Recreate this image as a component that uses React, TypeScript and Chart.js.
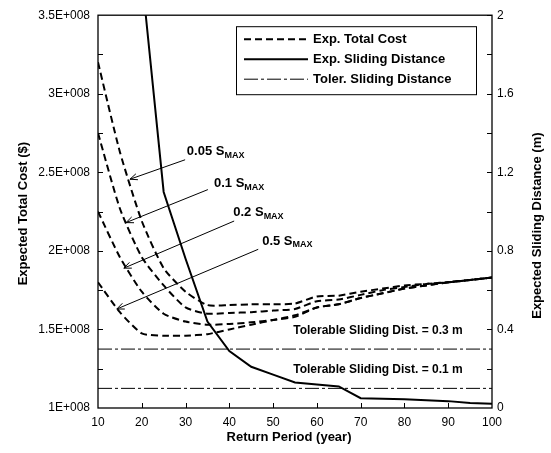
import React, { useEffect, useRef } from 'react';
import { Chart, registerables } from 'chart.js';
Chart.register(...registerables);

const FONT = '"Liberation Sans", Arial, Helvetica, sans-serif';

// Return period (year)
const years = [10, 15, 20, 25, 30, 35, 40, 45, 50, 55, 60, 65, 70, 75, 80, 85, 90, 95, 100];
// Expected total cost ($), left axis
const cost005 = [3.2e8, 2.63e8, 2.19e8, 1.89e8, 1.74e8, 1.655e8, 1.655e8, 1.66e8, 1.66e8, 1.665e8, 1.71e8, 1.715e8, 1.74e8, 1.76e8, 1.78e8, 1.79e8, 1.80e8, 1.815e8, 1.83e8];
const cost01 = [2.75e8, 2.27e8, 1.96e8, 1.78e8, 1.64e8, 1.60e8, 1.605e8, 1.61e8, 1.62e8, 1.63e8, 1.68e8, 1.69e8, 1.72e8, 1.75e8, 1.77e8, 1.79e8, 1.80e8, 1.815e8, 1.83e8];
const cost02 = [2.25e8, 1.96e8, 1.74e8, 1.60e8, 1.55e8, 1.53e8, 1.535e8, 1.545e8, 1.56e8, 1.58e8, 1.64e8, 1.66e8, 1.70e8, 1.73e8, 1.76e8, 1.78e8, 1.80e8, 1.815e8, 1.83e8];
const cost05 = [1.80e8, 1.61e8, 1.475e8, 1.46e8, 1.46e8, 1.47e8, 1.50e8, 1.53e8, 1.56e8, 1.59e8, 1.64e8, 1.66e8, 1.70e8, 1.73e8, 1.76e8, 1.78e8, 1.80e8, 1.815e8, 1.83e8];
// Expected sliding distance (m), right axis
const slideYears = [20, 25, 30, 35, 40, 45, 50, 55, 60, 65, 70, 75, 80, 85, 90, 95, 100];
const slideDist = [2.2, 1.10, 0.76, 0.44, 0.29, 0.21, 0.17, 0.13, 0.12, 0.11, 0.05, 0.047, 0.045, 0.04, 0.035, 0.025, 0.022];
// Tolerable sliding distances (m)
const tolerances = [0.3, 0.1];
const tolLabels = ['Tolerable Sliding Dist. = 0.3 m', 'Tolerable Sliding Dist. = 0.1 m'];

const legendLabels = ['Exp. Total Cost', 'Exp. Sliding Distance', 'Toler. Sliding Distance'];
const curveNames = ['0.05', '0.1', '0.2', '0.5'];
// annotation label anchor (year, cost), arrow tail and tip (year, cost)
const labelPos = [[30.3, 2.633e8], [36.5, 2.43e8], [40.9, 2.247e8], [47.5, 2.063e8]];
const arrowTail = [[29.9, 2.58e8], [35.1, 2.39e8], [41.1, 2.19e8], [46.6, 2.01e8]];
const arrowTip = [[17.3, 2.456e8], [16.4, 2.18e8], [15.9, 1.89e8], [14.3, 1.63e8]];
const tolLabelPos = [[54.6, 0.395], [54.6, 0.197]];

const DASH = [7, 4];
const DASHDOT = [14, 3, 3, 3];

const overlay = {
  id: 'overlay',
  afterDraw(chart: any) {
    const { ctx, chartArea: a, scales } = chart;
    const sx = scales.x, sy = scales.y, sy1 = scales.y1;
    ctx.save();
    ctx.strokeStyle = '#000';
    ctx.fillStyle = '#000';
    ctx.lineWidth = 1.3;
    ctx.setLineDash([]);
    ctx.strokeRect(a.left, a.top, a.right - a.left, a.bottom - a.top);
    ctx.lineWidth = 1;
    // inner ticks
    ctx.beginPath();
    for (let v = 20; v < 100; v += 10) {
      const px = Math.round(sx.getPixelForValue(v)) + 0.5;
      ctx.moveTo(px, a.bottom);
      ctx.lineTo(px, a.bottom - 5);
    }
    for (let v = 1.25e8; v < 3.5e8; v += 0.25e8) {
      const py = Math.round(sy.getPixelForValue(v)) + 0.5;
      ctx.moveTo(a.left, py);
      ctx.lineTo(a.left + 5, py);
    }
    for (let v = 0.2; v < 2; v += 0.2) {
      const py = Math.round(sy1.getPixelForValue(v)) + 0.5;
      ctx.moveTo(a.right, py);
      ctx.lineTo(a.right - 5, py);
    }
    ctx.stroke();

    // axis titles
    ctx.font = `bold 13px ${FONT}`;
    ctx.textAlign = 'center';
    ctx.textBaseline = 'middle';
    ctx.fillText('Return Period (year)', (a.left + a.right) / 2 - 6, a.bottom + 29);
    ctx.save();
    ctx.translate(23, (a.top + a.bottom) / 2 + 2);
    ctx.rotate(-Math.PI / 2);
    ctx.fillText('Expected Total Cost ($)', 0, 0);
    ctx.restore();
    ctx.save();
    ctx.translate(537, (a.top + a.bottom) / 2 + 14);
    ctx.rotate(-Math.PI / 2);
    ctx.fillText('Expected Sliding Distance (m)', 0, 0);
    ctx.restore();

    // legend
    const lx = a.left + 138, ly = a.top + 11, lw = 240, lh = 68;
    ctx.lineWidth = 1;
    ctx.strokeRect(lx + 0.5, ly + 0.5, lw, lh);
    const styles = [
      { dash: DASH, w: 2 },
      { dash: [], w: 2 },
      { dash: DASHDOT, w: 1 },
    ];
    ctx.textAlign = 'left';
    ctx.font = `bold 13px ${FONT}`;
    legendLabels.forEach((t, i) => {
      const yy = ly + 13 + i * 20;
      ctx.beginPath();
      ctx.setLineDash(styles[i].dash);
      ctx.lineWidth = styles[i].w;
      ctx.moveTo(lx + 8, yy);
      ctx.lineTo(lx + 72, yy);
      ctx.stroke();
      ctx.setLineDash([]);
      ctx.fillText(t, lx + 77, yy);
    });

    // curve annotations
    curveNames.forEach((n, i) => {
      const px = sx.getPixelForValue(labelPos[i][0]);
      const py = sy.getPixelForValue(labelPos[i][1]);
      ctx.font = `bold 13px ${FONT}`;
      const main = `${n} S`;
      ctx.fillText(main, px, py);
      const w = ctx.measureText(main).width;
      ctx.font = `bold 9px ${FONT}`;
      ctx.fillText('MAX', px + w, py + 4);
      const tx = sx.getPixelForValue(arrowTail[i][0]);
      const ty = sy.getPixelForValue(arrowTail[i][1]);
      const hx = sx.getPixelForValue(arrowTip[i][0]);
      const hy = sy.getPixelForValue(arrowTip[i][1]);
      ctx.lineWidth = 1;
      ctx.beginPath();
      ctx.moveTo(tx, ty);
      ctx.lineTo(hx, hy);
      const ang = Math.atan2(ty - hy, tx - hx);
      const L = 8, s = 0.4;
      ctx.moveTo(hx + L * Math.cos(ang + s), hy + L * Math.sin(ang + s));
      ctx.lineTo(hx, hy);
      ctx.lineTo(hx + L * Math.cos(ang - s), hy + L * Math.sin(ang - s));
      ctx.stroke();
    });

    // tolerance labels
    ctx.font = `bold 12px ${FONT}`;
    tolLabels.forEach((t, i) => {
      ctx.fillText(t, sx.getPixelForValue(tolLabelPos[i][0]), sy1.getPixelForValue(tolLabelPos[i][1]));
    });
    ctx.restore();
  },
};

function pts(xs: number[], ys: number[]) {
  return xs.map((x, i) => ({ x, y: ys[i] }));
}

export default function App() {
  const ref = useRef<HTMLCanvasElement>(null);
  useEffect(() => {
    if (!ref.current) return;
    const costSeries = [cost005, cost01, cost02, cost05];
    const datasets: any[] = costSeries.map((c, i) => ({
      label: `Exp. Total Cost ${curveNames[i]}`,
      data: pts(years, c),
      yAxisID: 'y',
      borderColor: '#000',
      borderWidth: 2,
      borderDash: DASH,
      pointRadius: 0,
      tension: 0.2,
      fill: false,
    }));
    datasets.push({
      label: 'Exp. Sliding Distance',
      data: pts(slideYears, slideDist),
      yAxisID: 'y1',
      borderColor: '#000',
      borderWidth: 2,
      pointRadius: 0,
      tension: 0,
      fill: false,
    });
    tolerances.forEach((t) => {
      datasets.push({
        label: 'Toler. Sliding Distance',
        data: [{ x: 10, y: t }, { x: 100, y: t }],
        yAxisID: 'y1',
        borderColor: '#000',
        borderWidth: 1,
        borderDash: DASHDOT,
        pointRadius: 0,
        fill: false,
      });
    });
    const tickFont = { family: FONT, size: 12 };
    const chart = new Chart(ref.current, {
      type: 'line',
      data: { datasets },
      plugins: [overlay],
      options: {
        animation: false,
        responsive: true,
        maintainAspectRatio: false,
        layout: { padding: { top: 13, left: 0, right: 0, bottom: 0 } },
        plugins: { legend: { display: false }, tooltip: { enabled: false } },
        scales: {
          x: {
            type: 'linear',
            min: 10,
            max: 100,
            grid: { display: false, drawTicks: false },
            border: { display: false },
            ticks: { stepSize: 10, color: '#000', font: tickFont, padding: 7, maxRotation: 0 },
            afterFit: (s: any) => { s.height = 45; },
          },
          y: {
            type: 'linear',
            position: 'left',
            min: 1e8,
            max: 3.5e8,
            grid: { display: false, drawTicks: false },
            border: { display: false },
            ticks: {
              stepSize: 0.5e8,
              color: '#000',
              font: tickFont,
              padding: 8,
              callback: (v: any) => `${Math.round(Number(v) / 1e7) / 10}E+008`,
            },
            afterFit: (s: any) => { s.width = 98; },
          },
          y1: {
            type: 'linear',
            position: 'right',
            min: 0,
            max: 2,
            grid: { display: false, drawTicks: false },
            border: { display: false },
            ticks: {
              stepSize: 0.4,
              color: '#000',
              font: tickFont,
              padding: 5,
              callback: (v: any) => `${Math.round(Number(v) * 10) / 10}`,
            },
            afterFit: (s: any) => { s.width = 59; },
          },
        },
      },
    });
    return () => chart.destroy();
  }, []);
  return (
    <div style={{ position: 'fixed', left: 0, top: 0, width: 551, height: 453, background: '#fff' }}>
      <canvas ref={ref} />
    </div>
  );
}
